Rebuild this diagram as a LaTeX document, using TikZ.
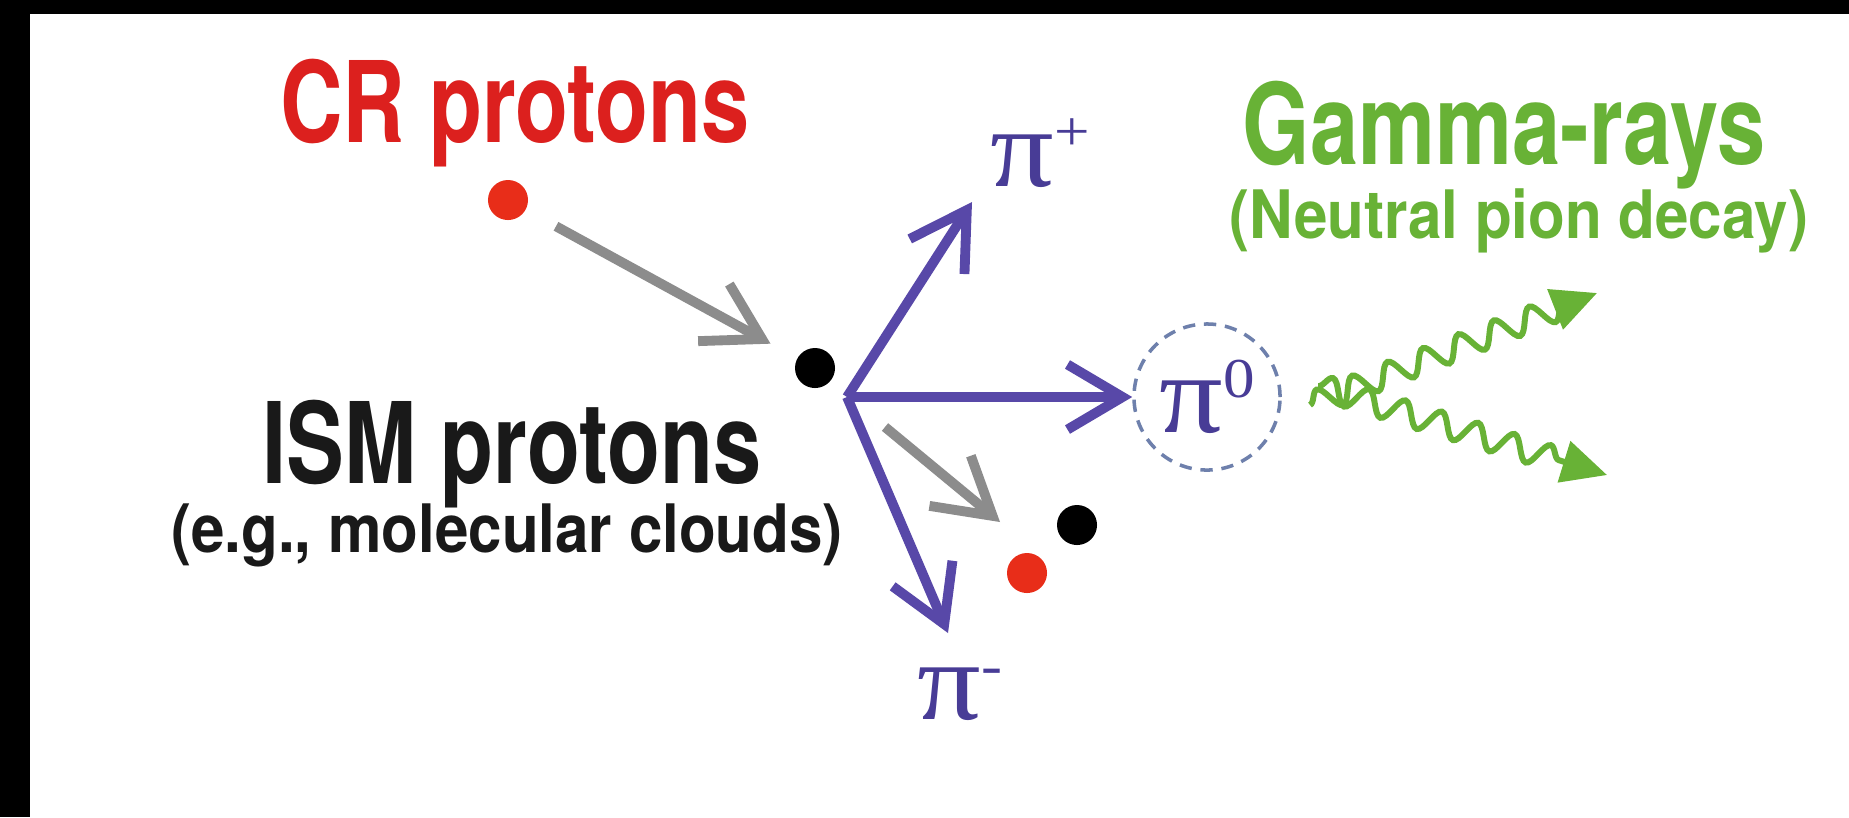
\documentclass[tikz,border=0pt]{standalone}
\usepackage{fontspec}
\usepackage{xcolor}
\usepackage{tikz}
\usetikzlibrary{arrows.meta,positioning,decorations.pathmorphing}

\newfontfamily\condfont[FakeStretch=0.77]{TeX Gyre Heros}
\newfontfamily\subfont[FakeStretch=0.9]{TeX Gyre Heros}
\newfontfamily\pifont[FakeStretch=1.12]{Liberation Serif}

\definecolor{crred}{RGB}{220,32,30}
\definecolor{dotred}{RGB}{232,45,25}
\definecolor{ismblack}{RGB}{25,25,25}
\definecolor{gammagreen}{RGB}{104,178,54}
\definecolor{decayviolet}{RGB}{88,72,168}
\definecolor{pitext}{RGB}{72,60,150}
\definecolor{hitgray}{RGB}{140,140,140}
\definecolor{ringblue}{RGB}{110,128,172}

% small raised charge sign next to a pion
\newcommand{\pisup}[1]{\raisebox{10pt}{\fontsize{16}{16}\selectfont #1}}

\begin{document}
\begin{tikzpicture}[
    x=0.01cm, y=-0.01cm,
    title/.style={font=\condfont\bfseries\fontsize{32}{38}\selectfont,
        anchor=base, inner sep=0pt},
    subtitle/.style={font=\subfont\bfseries\fontsize{19}{23}\selectfont,
        anchor=base, inner sep=0pt},
    proton/.style={circle, minimum size=0.4cm, inner sep=0pt},
    pion/.style={font=\pifont\fontsize{32}{38}\selectfont, text=pitext,
        inner sep=0pt},
    pizero/.style={pion, circle, draw=ringblue, dashed, line width=1pt,
        dash pattern=on 3.5pt off 2.5pt, minimum size=1.46cm},
    hit/.style={-{Straight Barb[length=5.5mm, width=6.5mm]}, line width=2.8pt,
        draw=hitgray},
    decay/.style={-{Straight Barb[length=5.5mm, width=6.5mm]}, line width=2.8pt,
        draw=decayviolet, line join=round},
    gamma/.style={draw=gammagreen, line width=1.7pt, decorate,
        decoration={snake, amplitude=0.12cm, segment length=0.38cm,
            post length=0.35cm},
        -{Triangle[length=4.5mm, width=4.2mm]}}
]

% frame
\useasboundingbox (0,0) rectangle (1849,817);
\fill[white] (0,0) rectangle (1849,817);
\fill[black] (0,0) rectangle (30,817);
\fill[black] (0,0) rectangle (1849,14);

% protons
\node[title, text=crred] (crlbl) at (515,142) {CR protons};
\node[proton, fill=dotred] (cr1) at (508,200) {};
\node[proton, fill=black] (ism1) at (815,368) {};
\node[title, text=ismblack] (ismlbl) at (512,483) {ISM protons};
\node[subtitle, text=ismblack] (ismsub) at (507,552) {(e.g., molecular clouds)};

\node[proton, fill=black] (ism2) at (1077,525) {};
\node[proton, fill=dotred] (cr2) at (1027,573) {};

\draw[hit, shorten <=0.34cm, shorten >=0.3cm] (cr1) -- (ism1);

% pions
\coordinate (vtx) at (847,397);
\coordinate (pp) at (972,202);
\coordinate (pm) at (948,633);
\coordinate (hs) at (885,427);
\coordinate (he) at (1000,522);

\node[pion, anchor=base west] (piplus) at (990,186) {π\pisup{+}};
\node[pion, below=0.34cm of pm, xshift=0.12cm] (piminus) {π\pisup{-}};
\node[pizero] (pi0) at (1207,397) {π\pisup{0}};

\draw[decay] (vtx) -- (pp);
\draw[decay] (vtx) -- (pi0.west);
\draw[decay] (vtx) -- (pm);
\draw[hit] (hs) -- (he);

% gamma-rays
\node[title, text=gammagreen] (gamlbl) at (1504,164) {Gamma-rays};
\node[subtitle, text=gammagreen] (gamsub) at (1519,238) {(Neutral pion decay)};

\coordinate (gu0) at (1310,405);
\coordinate (gu1) at (1597,293);
\coordinate (gd0) at (1318,386);
\coordinate (gd1) at (1607,475);

\draw[gamma] (gu0) -- (gu1);
\draw[gamma] (gd0) -- (gd1);

\end{tikzpicture}
\end{document}
